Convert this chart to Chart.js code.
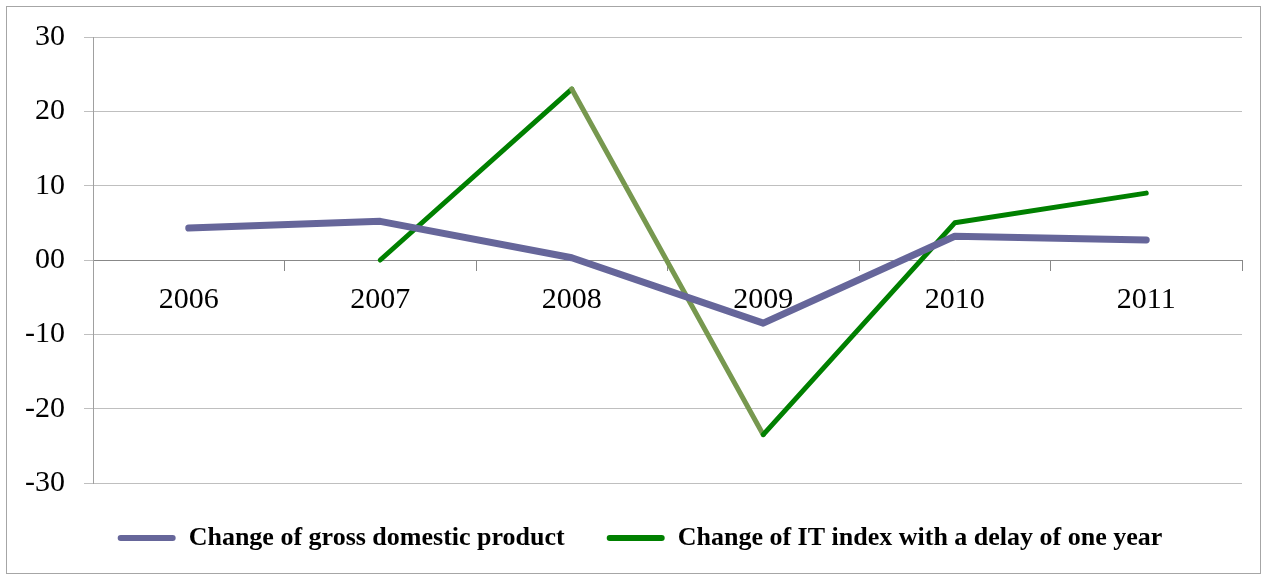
<!DOCTYPE html>
<html>
<head>
<meta charset="utf-8">
<script src="https://cdn.jsdelivr.net/npm/chart.js@4.4.1/dist/chart.umd.min.js"></script>
<style>
  html, body { margin: 0; padding: 0; background: #fff; }
  #wrap { position: relative; width: 1266px; height: 578px; }
</style>
</head>
<body>
<div id="wrap"><canvas id="c" width="1266" height="578"></canvas></div>
<script>
const categories = ['2006', '2007', '2008', '2009', '2010', '2011'];
const gdpChange = [4.3, 5.2, 0.3, -8.5, 3.2, 2.7];
const itIndexChange = [null, 0, 23, -23.5, 5.0, 9.0];
const yTickValues = [-30, -20, -10, 0, 10, 20, 30];
const yTickLabels = ['-30', '-20', '-10', '00', '10', '20', '30'];
const seriesNames = ['Change of gross domestic product', 'Change of IT index with a delay of one year'];

const FONT = '"Liberation Serif", "Times New Roman", serif';

const frame = {
  id: 'frame',
  beforeDraw(chart) {
    const ctx = chart.ctx;
    ctx.save();
    ctx.fillStyle = '#fff';
    ctx.fillRect(0, 0, chart.width, chart.height);
    ctx.strokeStyle = '#a6a6a6';
    ctx.lineWidth = 1;
    ctx.strokeRect(6.5, 6.5, chart.width - 12, chart.height - 11);
    ctx.restore();
  }
};

new Chart(document.getElementById('c'), {
  type: 'line',
  data: {
    labels: categories,
    datasets: [
      {
        label: seriesNames[0],
        data: gdpChange,
        borderColor: '#66669a',
        backgroundColor: '#66669a',
        borderWidth: 7,
        borderCapStyle: 'round',
        borderJoinStyle: 'round',
        pointRadius: 0,
        tension: 0
      },
      {
        label: seriesNames[1],
        data: itIndexChange,
        borderColor: '#008000',
        backgroundColor: '#008000',
        borderWidth: 5,
        borderCapStyle: 'round',
        borderJoinStyle: 'round',
        pointRadius: 0,
        tension: 0,
        spanGaps: false,
        segment: {
          borderColor: ctx => ctx.p0DataIndex === 2 ? '#77984f' : undefined
        }
      }
    ]
  },
  options: {
    responsive: false,
    animation: false,
    devicePixelRatio: 1,
    layout: { padding: { left: 14, right: 0, top: 37, bottom: 17 } },
    plugins: {
      tooltip: { enabled: false },
      legend: {
        position: 'bottom',
        labels: {
          font: { family: FONT, size: 26, weight: 'bold' },
          color: '#000',
          boxWidth: 58,
          boxHeight: 6,
          padding: 42,
          useBorderRadius: true,
          borderRadius: 3,
          generateLabels(chart) {
            const items = Chart.defaults.plugins.legend.labels.generateLabels(chart);
            items.forEach(it => {
              const ds = chart.data.datasets[it.datasetIndex];
              it.fillStyle = ds.borderColor;
              it.strokeStyle = ds.borderColor;
              it.lineWidth = 0;
            });
            return items;
          }
        }
      }
    },
    scales: {
      x: {
        type: 'category',
        position: { y: 0 },
        offset: true,
        grid: {
          display: true,
          offset: true,
          drawOnChartArea: false,
          drawTicks: true,
          tickLength: 10,
          color: '#888888'
        },
        border: { display: true, color: '#888888', width: 1 },
        ticks: {
          font: { family: FONT, size: 30 },
          color: '#000',
          padding: 12,
          maxRotation: 0
        }
      },
      y: {
        min: -30,
        max: 30,
        afterFit(scale) { scale.width = 79; },
        afterBuildTicks(scale) { scale.ticks = yTickValues.map(v => ({ value: v })); },
        grid: {
          color: '#bfbfbf',
          tickLength: 9,
          drawTicks: true
        },
        border: { display: true, color: '#a0a0a0', width: 1 },
        ticks: {
          font: { family: FONT, size: 30 },
          color: '#000',
          padding: 19,
          callback: (v) => yTickLabels[yTickValues.indexOf(v)]
        }
      },
      yRightSpace: {
        type: 'linear',
        position: 'right',
        min: -30,
        max: 30,
        afterFit(scale) { scale.width = 24; },
        grid: { display: false, drawTicks: false },
        border: { display: false },
        ticks: { display: false }
      }
    }
  },
  plugins: [frame]
});
</script>
</body>
</html>
